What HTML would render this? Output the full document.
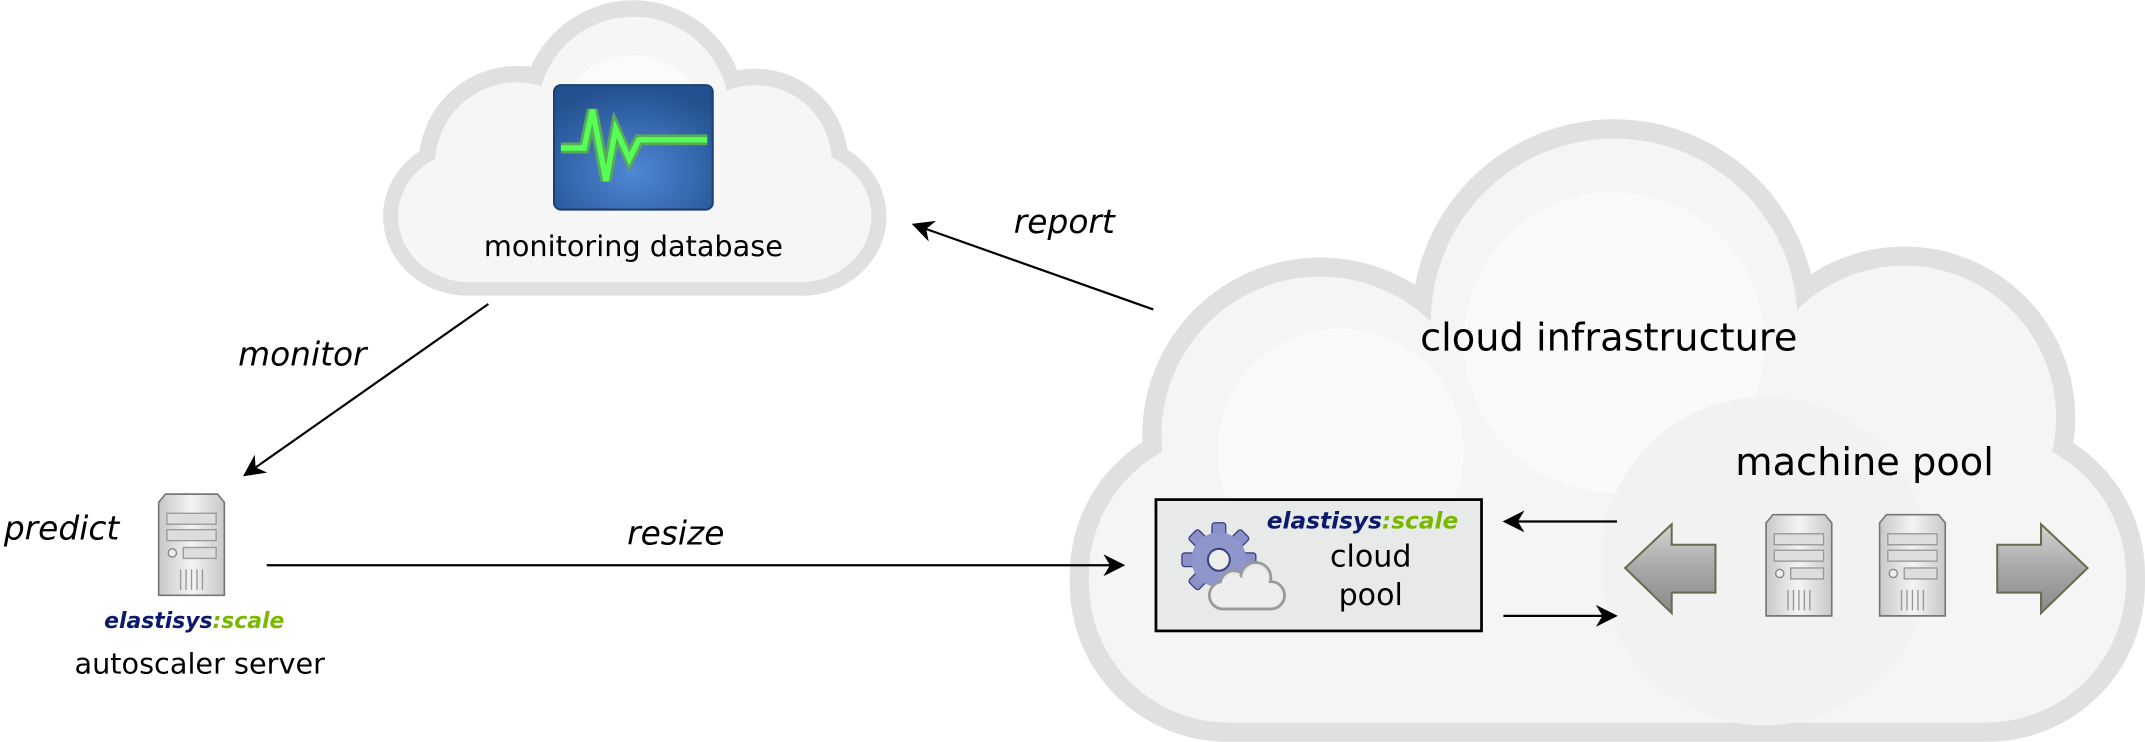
<!DOCTYPE html>
<html><head><meta charset="utf-8"><style>
html,body{margin:0;padding:0;background:#fff;}
svg{display:block;}
text{font-family:"DejaVu Sans","Liberation Sans",sans-serif;}
</style></head><body>
<svg width="2145" height="742" viewBox="0 0 1568 542" xmlns="http://www.w3.org/2000/svg">
<defs>
<radialGradient id="mg" cx="0.5" cy="0.7" r="0.7"><stop offset="0" stop-color="#4f88d4"/><stop offset="1" stop-color="#23508f"/></radialGradient>
<linearGradient id="sg" x1="0" y1="0" x2="1" y2="0"><stop offset="0" stop-color="#c8c8c8"/><stop offset="0.5" stop-color="#f4f4f4"/><stop offset="1" stop-color="#c8c8c8"/></linearGradient>
<linearGradient id="ag" x1="0" y1="0" x2="0" y2="1"><stop offset="0" stop-color="#d4d4d4"/><stop offset="0.5" stop-color="#a8a8a8"/><stop offset="1" stop-color="#8a8a8a"/></linearGradient>
<marker id="ah" viewBox="0 0 10 10" refX="9" refY="5" markerWidth="16" markerHeight="16" markerUnits="userSpaceOnUse" orient="auto"><path d="M0,0 L10,5 L0,10 L3,5 z" fill="#000"/></marker>
<g id="srv">
<path d="M2,6 L7,0 L45,0 L50,6 L50,74 L2,74 z" fill="url(#sg)" stroke="#777" stroke-width="1.2"/>
<rect x="8" y="14" width="36" height="8" fill="#ddd" stroke="#999"/>
<rect x="8" y="26" width="36" height="8" fill="#ddd" stroke="#999"/>
<circle cx="12" cy="43" r="3" fill="#eee" stroke="#888"/>
<rect x="20" y="39" width="24" height="8" fill="#ddd" stroke="#999"/>
<g stroke="#999" stroke-width="1"><line x1="18" y1="55" x2="18" y2="70"/><line x1="22" y1="55" x2="22" y2="70"/><line x1="26" y1="55" x2="26" y2="70"/><line x1="30" y1="55" x2="30" y2="70"/><line x1="34" y1="55" x2="34" y2="70"/></g>
</g>
</defs>

<!-- small cloud -->
<g fill="#e0e0e0">
<circle cx="463" cy="82" r="82"/><circle cx="378" cy="120" r="72"/><circle cx="552" cy="118" r="68"/>
<rect x="280" y="100" width="368" height="116" rx="62"/>
</g>
<g fill="#f6f6f6">
<circle cx="463" cy="82" r="70"/><circle cx="378" cy="120" r="60"/><circle cx="552" cy="118" r="56"/>
<rect x="291" y="110" width="346" height="96" rx="52"/>
</g>
<g fill="#fbfbfb"><circle cx="463" cy="95" r="55"/></g>

<!-- big cloud -->
<g fill="#e0e0e0">
<circle cx="1180" cy="235" r="148"/><circle cx="965" cy="318" r="130"/><circle cx="1392" cy="305" r="125"/>
<rect x="782" y="305" width="786" height="237" rx="115"/>
</g>
<g fill="#f5f5f5">
<circle cx="1180" cy="235" r="134"/><circle cx="965" cy="318" r="116"/><circle cx="1392" cy="305" r="111"/>
<rect x="796" y="318" width="758" height="210" rx="102"/>
</g>
<g fill="#fafafa"><circle cx="1180" cy="250" r="110"/><circle cx="980" cy="330" r="90"/></g>
<g fill="#f2f2f2"><circle cx="1290" cy="410" r="120"/></g>

<!-- monitor icon -->
<rect x="405" y="62" width="116" height="91" rx="5" fill="url(#mg)" stroke="#1c3f72" stroke-width="1.5"/>
<path d="M410,108 L427,108 L433,80 L443,132 L450,94 L460,116 L467,102 L517,102" fill="none" stroke="#5aa85a" stroke-width="8"/>
<path d="M410,108 L427,108 L433,80 L443,132 L450,94 L460,116 L467,102 L517,102" fill="none" stroke="#56ff56" stroke-width="4"/>
<text x="463" y="187" font-size="21" text-anchor="middle">monitoring database</text>

<!-- arrows -->
<line x1="843" y1="226" x2="668" y2="164" stroke="#000" stroke-width="1.6" marker-end="url(#ah)"/>
<line x1="357" y1="222" x2="179" y2="347" stroke="#000" stroke-width="1.6" marker-end="url(#ah)"/>
<line x1="195" y1="413" x2="821" y2="413" stroke="#000" stroke-width="1.6" marker-end="url(#ah)"/>
<line x1="1182" y1="381" x2="1100" y2="381" stroke="#000" stroke-width="1.6" marker-end="url(#ah)"/>
<line x1="1099" y1="450" x2="1181" y2="450" stroke="#000" stroke-width="1.6" marker-end="url(#ah)"/>

<g font-style="italic" font-size="24">
<text x="778" y="170" text-anchor="middle">report</text>
<text x="221" y="267" text-anchor="middle">monitor</text>
<text x="45" y="394" text-anchor="middle">predict</text>
<text x="494" y="398" text-anchor="middle">resize</text>
</g>

<!-- autoscaler server -->
<use href="#srv" x="114" y="361"/>
<text x="142" y="459" font-size="16" font-weight="bold" font-style="italic" text-anchor="middle"><tspan fill="#0c1a6e">elastisys</tspan><tspan fill="#7ab800">:scale</tspan></text>
<text x="146" y="492" font-size="21" text-anchor="middle">autoscaler server</text>

<text x="1176" y="256" font-size="28" text-anchor="middle">cloud infrastructure</text>
<text x="1363" y="347" font-size="28" text-anchor="middle">machine pool</text>

<!-- cloud pool box -->
<rect x="845" y="365" width="238" height="96" fill="#e8eaea" stroke="#000" stroke-width="2"/>
<text x="996" y="386" font-size="17" font-weight="bold" font-style="italic" text-anchor="middle"><tspan fill="#0c1a6e">elastisys</tspan><tspan fill="#7ab800">:scale</tspan></text>
<text x="1002" y="414" font-size="22" text-anchor="middle">cloud</text>
<text x="1002" y="442" font-size="22" text-anchor="middle">pool</text>
<!-- gear -->
<g transform="translate(891,409)">
<g fill="#8a90c8" stroke="#3c4280" stroke-width="1">
<rect x="-5" y="-27" width="10" height="54" rx="2"/>
<rect x="-5" y="-27" width="10" height="54" rx="2" transform="rotate(45)"/>
<rect x="-5" y="-27" width="10" height="54" rx="2" transform="rotate(90)"/>
<rect x="-5" y="-27" width="10" height="54" rx="2" transform="rotate(135)"/>
</g>
<circle r="20" fill="#8f96cc"/>
<circle r="8" fill="#eee" stroke="#3c4280" stroke-width="1.5"/>
</g>
<g fill="#e8e8e8" stroke="#999" stroke-width="2">
<rect x="884" y="425" width="55" height="20" rx="10"/>
<circle cx="902" cy="427" r="10"/><circle cx="918" cy="422" r="11"/>
</g>
<g fill="#eee"><rect x="886" y="426" width="51" height="17" rx="8"/><circle cx="902" cy="428" r="8"/><circle cx="918" cy="423" r="9"/></g>

<!-- machine pool icons -->
<path d="M1188,415 L1222,383 L1222,398 L1254,398 L1254,433 L1222,433 L1222,448 z" fill="url(#ag)" stroke="#6b6b50" stroke-width="1.5"/>
<path d="M1526,415 L1492,383 L1492,398 L1460,398 L1460,433 L1492,433 L1492,448 z" fill="url(#ag)" stroke="#6b6b50" stroke-width="1.5"/>
<use href="#srv" x="1289" y="376"/>
<use href="#srv" x="1372" y="376"/>
</svg>
</body></html>
